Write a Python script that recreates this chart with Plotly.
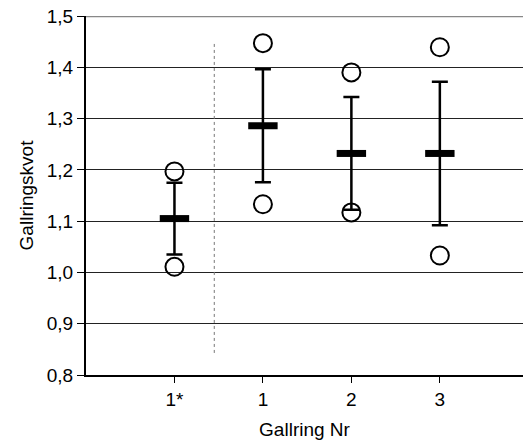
import plotly.graph_objects as go

# Category positions on the numeric x axis and their labels
categories = ["1*", "1", "2", "3"]
positions = [1, 2, 3, 4]

# Mean thinning ratio per thinning and its spread
means = [1.105, 1.286, 1.232, 1.232]
spread = [0.070, 0.110, 0.110, 0.140]

# Observed max / min per thinning
max_obs = [1.197, 1.447, 1.390, 1.439]
min_obs = [1.011, 1.133, 1.117, 1.033]

# Vertical separator between first thinning and the rest
sep_x = 1.45
sep_y = [0.843, 1.448]

font = "Liberation Sans, Arial, sans-serif"

fig = go.Figure()

# Error bars around the means
fig.add_trace(go.Scatter(
    x=positions, y=means, mode="markers",
    marker=dict(size=1, color="rgba(0,0,0,0)"),
    error_y=dict(type="data", array=spread, visible=True,
                 color="black", thickness=2.5, width=8),
    showlegend=False, hoverinfo="skip",
))

# Mean markers (thick horizontal bars)
fig.add_trace(go.Scatter(
    x=positions, y=means, mode="markers",
    marker=dict(symbol="line-ew", size=21,
                line=dict(width=7, color="black")),
    showlegend=False,
))

# Max / min observations as open circles
for vals in (max_obs, min_obs):
    fig.add_trace(go.Scatter(
        x=positions, y=vals, mode="markers",
        marker=dict(symbol="circle-open", size=18,
                    line=dict(width=2, color="black"), color="black"),
        showlegend=False,
    ))

# Dotted separator
fig.add_trace(go.Scatter(
    x=[sep_x, sep_x], y=sep_y, mode="lines",
    line=dict(color="#777777", width=1, dash="dot"),
    showlegend=False, hoverinfo="skip",
))

# Grey top border at 1,5
fig.add_shape(type="line", xref="paper", yref="y", x0=0, x1=1, y0=1.5, y1=1.5,
              line=dict(color="#888888", width=2.5))

fig.update_layout(
    width=523, height=448,
    margin=dict(l=86, r=0, t=16, b=73),
    paper_bgcolor="white", plot_bgcolor="white",
    separators=", ",
    font=dict(family=font, size=19, color="black"),
    xaxis=dict(
        range=[0, 4.94], tickmode="array",
        tickvals=positions, ticktext=categories,
        showgrid=False, zeroline=False,
        showline=True, linecolor="black", linewidth=2,
        ticks="outside", ticklen=6, tickwidth=1, tickcolor="black",
        title=dict(text="Gallring Nr", font=dict(size=19), standoff=14),
    ),
    yaxis=dict(
        range=[0.8, 1.5], dtick=0.1, tick0=0.8, tickformat=".1f",
        showgrid=True, gridcolor="#222222", gridwidth=1,
        zeroline=False,
        showline=True, linecolor="black", linewidth=2,
        ticks="outside", ticklen=7, tickwidth=1, tickcolor="black",
        title=dict(text="Gallringskvot", font=dict(size=19), standoff=8),
    ),
)

fig.write_html("out.html")
